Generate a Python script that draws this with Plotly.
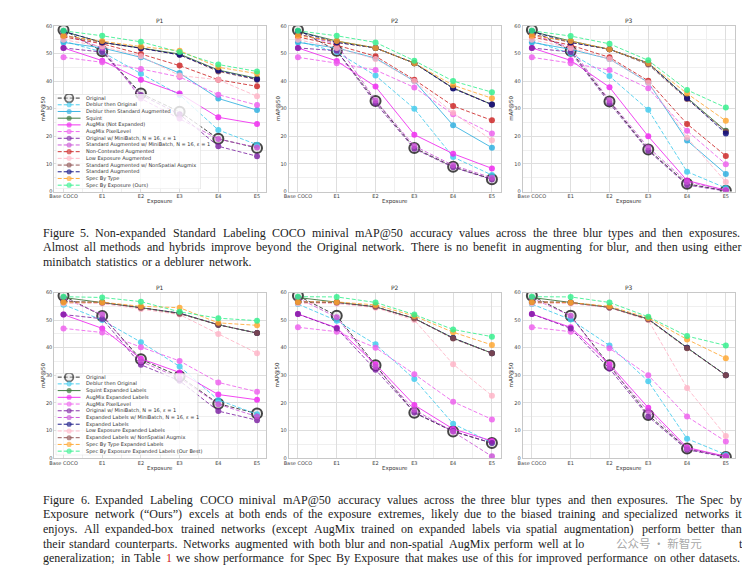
import plotly.graph_objects as go

# ---------------- data ----------------
CATEGORIES = ["Base COCO", "E1", "E2", "E3", "E4", "E5"]
PANEL_TITLES = ["P1", "P2", "P3"]
Y_TICKS = [0, 10, 20, 30, 40, 50, 60]

F5_NAMES = ["Original", "Deblur then Original", "Deblur then Standard Augmented", "Squint",
            "AugMix (Not Expanded)", "AugMix PixelLevel", "Original w/ MiniBatch, N = 16, ε = 1",
            "Standard Augmented w/ MiniBatch, N = 16, ε = 1", "Non-Contexted Augmented",
            "Low Exposure Augmented", "Standard Augmented w/ NonSpatial Augmix", "Standard Augmented",
            "Spec By Type", "Spec By Exposure (Ours)"]
F6_NAMES = ["Original", "Deblur then Original", "Squint Expanded Labels", "AugMix Expanded Labels",
            "AugMix PixelLevel", "Original w/ MiniBatch, N = 16, ε = 1",
            "Expanded Labels w/ MiniBatch, N = 16, ε = 1", "Expanded Labels",
            "Low Exposure Expanded Labels", "Expanded Labels w/ NonSpatial Augmix",
            "Spec By Type Expanded Labels", "Spec By Exposure Expanded Labels (Our Best)"]

# Figure 5 (rows follow F5_NAMES)
F5_P1 = [[58.5, 50.8, 35.5, 28.9, 19.1, 15.8],
         [54.5, 50.5, 42.7, 35.0, 22.3, 17.0],
         [54.0, 52.0, 48.6, 42.9, 33.7, 29.5],
         [58.0, 54.0, 52.0, 49.8, 44.0, 41.0],
         [52.0, 47.4, 40.5, 35.5, 26.9, 24.5],
         [48.6, 46.8, 44.4, 41.5, 35.1, 31.3],
         [52.0, 50.5, 35.0, 28.0, 16.4, 12.8],
         [57.0, 52.0, 33.7, 26.5, 19.0, 16.0],
         [56.0, 53.5, 49.8, 45.6, 40.5, 38.1],
         [55.0, 52.5, 49.0, 42.0, 40.5, 34.5],
         [56.5, 54.0, 51.9, 49.5, 43.5, 40.5],
         [58.0, 54.0, 51.9, 49.5, 43.8, 40.7],
         [56.4, 54.5, 52.5, 51.0, 45.0, 42.7],
         [58.2, 56.4, 54.2, 50.5, 46.0, 43.5]]
F5_P2 = [[58.5, 51.0, 32.8, 15.8, 9.0, 4.5],
         [54.5, 50.5, 42.0, 30.0, 12.5, 6.0],
         [54.0, 52.0, 48.3, 40.0, 24.0, 15.9],
         [58.0, 54.5, 52.0, 46.5, 37.5, 31.5],
         [52.0, 47.3, 38.0, 20.6, 13.7, 8.4],
         [48.6, 46.5, 44.0, 37.7, 28.0, 21.0],
         [52.0, 51.0, 32.0, 15.5, 8.8, 4.4],
         [57.0, 53.4, 33.0, 16.5, 9.5, 5.0],
         [56.0, 53.0, 49.0, 40.5, 31.0, 25.8],
         [55.0, 52.0, 48.0, 40.0, 28.5, 18.6],
         [57.0, 54.0, 52.0, 46.5, 37.5, 31.5],
         [58.0, 54.0, 52.0, 46.5, 37.3, 31.5],
         [56.4, 54.5, 52.0, 46.5, 38.5, 33.8],
         [58.2, 56.4, 54.0, 47.4, 40.0, 36.0]]
F5_P3 = [[58.5, 51.0, 32.6, 15.2, 2.8, 0.3],
         [54.5, 50.0, 41.8, 29.6, 7.2, 1.3],
         [54.0, 51.5, 48.0, 39.5, 18.5, 6.4],
         [58.0, 54.5, 51.5, 46.5, 34.0, 22.0],
         [52.0, 47.5, 37.8, 20.0, 4.0, 0.5],
         [48.6, 46.5, 44.0, 37.4, 22.0, 9.9],
         [52.0, 50.5, 32.0, 14.8, 2.4, 0.2],
         [57.0, 52.0, 33.0, 16.0, 3.5, 0.5],
         [56.0, 53.0, 48.6, 40.1, 24.5, 12.9],
         [55.0, 52.0, 48.0, 39.5, 19.5, 3.5],
         [57.0, 54.0, 51.5, 46.0, 33.5, 21.7],
         [58.0, 54.0, 51.5, 46.5, 33.8, 21.0],
         [56.4, 54.5, 51.5, 46.5, 35.5, 25.6],
         [58.2, 56.3, 53.5, 47.5, 36.8, 30.4]]

# Figure 6 (rows follow F6_NAMES)
F6_P1 = [[58.8, 51.5, 35.8, 29.6, 19.7, 16.1],
         [55.6, 50.0, 42.0, 33.2, 21.0, 15.9],
         [58.2, 56.4, 54.5, 52.5, 48.3, 45.3],
         [52.0, 47.0, 36.0, 31.0, 23.0, 21.1],
         [47.0, 45.5, 40.2, 35.2, 27.4, 24.0],
         [52.0, 50.5, 33.8, 28.0, 17.0, 13.7],
         [58.0, 52.0, 35.0, 29.0, 19.5, 15.0],
         [56.7, 56.4, 54.5, 52.5, 48.3, 45.3],
         [56.0, 56.0, 54.0, 52.0, 45.0, 38.0],
         [56.7, 56.4, 54.5, 52.3, 48.3, 45.3],
         [56.5, 56.5, 55.0, 54.5, 49.0, 48.1],
         [58.5, 58.2, 56.7, 53.0, 50.7, 49.8]]
F6_P2 = [[58.8, 51.6, 33.6, 16.4, 9.6, 5.4],
         [55.8, 49.8, 41.2, 28.6, 12.4, 5.5],
         [58.2, 56.6, 54.8, 50.6, 43.5, 38.0],
         [52.2, 47.2, 34.0, 19.2, 10.5, 6.2],
         [47.4, 45.8, 40.0, 30.4, 20.4, 14.0],
         [52.2, 47.0, 32.0, 16.5, 9.8, 5.4],
         [58.0, 51.0, 33.0, 17.5, 9.5, 0.6],
         [56.6, 56.4, 54.8, 50.6, 43.5, 38.0],
         [56.0, 56.0, 54.5, 50.0, 34.0, 22.6],
         [56.6, 56.4, 54.8, 50.6, 43.3, 38.0],
         [56.6, 56.6, 55.5, 51.5, 45.6, 41.0],
         [58.5, 58.4, 56.4, 52.0, 46.6, 44.0]]
F6_P3 = [[58.8, 51.6, 33.6, 15.6, 3.4, 0.4],
         [55.8, 50.2, 40.8, 27.8, 7.0, 1.2],
         [58.2, 56.4, 54.6, 50.4, 40.0, 30.0],
         [52.2, 47.4, 34.0, 18.2, 3.8, 0.6],
         [47.4, 45.8, 39.8, 30.0, 15.0, 6.0],
         [52.2, 47.0, 32.4, 15.0, 3.0, 0.3],
         [58.0, 51.6, 33.0, 17.0, 3.4, 0.5],
         [56.6, 56.4, 54.6, 50.4, 40.0, 30.0],
         [56.0, 56.0, 54.5, 50.0, 25.4, 8.0],
         [56.6, 56.4, 54.6, 50.2, 39.8, 30.0],
         [56.6, 56.4, 55.0, 50.8, 43.0, 36.2],
         [58.5, 58.4, 56.4, 51.2, 44.2, 40.8]]

CAPTION5 = [
    ("Figure 5. Non-expanded Standard Labeling COCO minival mAP@50 accuracy values across the three blur types and then exposures.", True),
    ("Almost all methods and hybrids improve beyond the Original network. There is no benefit in augmenting for blur, and then using either", True),
    ("minibatch statistics or a deblurer network.", False),
]
CAPTION6 = [
    ("Figure 6. Expanded Labeling COCO minival mAP@50 accuracy values across the three blur types and then exposures.  The Spec by", True),
    ("Exposure network (“Ours”) excels at both ends of the exposure extremes, likely due to the biased training and specialized networks it", True),
    ("enjoys.  All expanded-box trained networks (except AugMix trained on expanded labels via spatial augmentation) perform better than", True),
    ("their standard counterparts.  Networks augmented with both blur and non-spatial AugMix perform well at low exposures, suggesting robust", True),
    ("generalization; in Table 1 we show performance for Spec By Exposure that makes use of this for improved performance on other datasets.", True),
]
# words hidden under the watermark in the picture -> visible fragment only
HIDDEN = {(3, "low"): ("lo", 0), (3, "exposures,"): ("", 0), (3, "suggesting"): ("", 0),
          (3, "robust"): ("t", 5)}
WATERMARK = "公众号 · 新智元"

# ---------------- styles ----------------
COL = dict(orig="#222222", dblue="#3ccbee", dblue2="#2aaee0", squint="#2f6e2f", mag="#f020f0",
           mag2="#ee5cee", purple="#7b1fa2", orchid="#c94fd6", red="#cc2020", pink="#ffb3c6",
           brown="#8a4b4b", navy="#0a0a80", orange="#ffa52c", green="#2ff08a")
F5_STYLE = [("orig", "d"), ("dblue", "d"), ("dblue2", "s"), ("squint", "s"), ("mag", "s"), ("mag2", "d"),
            ("purple", "d"), ("orchid", "d"), ("red", "d"), ("pink", "d"), ("brown", "d"), ("navy", "d"),
            ("orange", "d"), ("green", "d")]
F6_STYLE = [("orig", "d"), ("dblue", "d"), ("squint", "s"), ("mag", "s"), ("mag2", "d"), ("purple", "d"),
            ("orchid", "d"), ("navy", "d"), ("pink", "d"), ("brown", "d"), ("orange", "d"), ("green", "d")]
DASH = {"d": "4px,2px", "s": "solid"}

W_PX, H_PX = 750, 574
PANEL_X = [(41.5, 255.0), (277.5, 491.5), (513.0, 727.0)]
ROW_Y = [(15.0, 182.5), (284.5, 451.7)]
FONT = "DejaVu Sans"
SERIF = "Liberation Serif"


def fx(px):
    return px / W_PX


def fy(py):
    return 1 - py / H_PX


fig = go.Figure()
layout = dict(width=W_PX, height=H_PX, margin=dict(l=0, r=0, t=0, b=0), autosize=False,
              paper_bgcolor="white", plot_bgcolor="rgba(0,0,0,0)", showlegend=False)
annotations = []

panels = [(0, F5_P1, F5_STYLE), (0, F5_P2, F5_STYLE), (0, F5_P3, F5_STYLE),
          (1, F6_P1, F6_STYLE), (1, F6_P2, F6_STYLE), (1, F6_P3, F6_STYLE)]


def marker_for(key, size_scale=1.0):
    if key == "orig":
        return dict(size=10 * size_scale, color="rgba(215,215,215,0.55)", line=dict(color="#1e1e1e", width=2))
    return dict(size=6 * size_scale, color=COL[key], line=dict(width=0))


for idx, (row, series, styles) in enumerate(panels):
    col = idx % 3
    n = idx + 1
    sfx = "" if n == 1 else str(n)
    x0, x1 = PANEL_X[col]
    y0, y1 = ROW_Y[row]
    layout["xaxis" + sfx] = dict(domain=[fx(x0), fx(x1)], anchor="y" + sfx, range=[-0.24, 5.24],
                                 tickmode="array", tickvals=list(range(len(CATEGORIES))), ticktext=CATEGORIES,
                                 tickfont=dict(family=FONT, size=5, color="#444"), ticks="",
                                 showgrid=True, gridcolor="#dedede", gridwidth=0.7, zeroline=False,
                                 showline=True, mirror=True, linecolor="#c8c8c8", linewidth=0.8,
                                 minor=dict(tickmode="linear", tick0=0, dtick=0.5, showgrid=True,
                                            gridcolor="#efefef", gridwidth=0.6),
                                 fixedrange=True)
    layout["yaxis" + sfx] = dict(domain=[fy(y1), fy(y0)], anchor="x" + sfx, range=[0, 60],
                                 tickmode="array", tickvals=Y_TICKS, ticktext=[str(v) for v in Y_TICKS],
                                 tickfont=dict(family=FONT, size=5, color="#444"), ticks="",
                                 showgrid=True, gridcolor="#dedede", gridwidth=0.7, zeroline=False,
                                 showline=True, mirror=True, linecolor="#c8c8c8", linewidth=0.8,
                                 minor=dict(tickmode="linear", tick0=0, dtick=5, showgrid=True,
                                            gridcolor="#efefef", gridwidth=0.6),
                                 fixedrange=True)
    for vals, (key, d) in zip(series, styles):
        fig.add_trace(go.Scatter(
            x=list(range(len(CATEGORIES))), y=vals, mode="lines+markers",
            xaxis="x" + sfx, yaxis="y" + sfx,
            line=dict(color=COL[key], width=1.0, dash=DASH[d]),
            marker=marker_for(key), opacity=0.82, hoverinfo="skip"))
    cx = (x0 + x1) / 2
    annotations.append(dict(text=PANEL_TITLES[col], x=fx(cx), y=fy(y0 - 5), xref="paper", yref="paper",
                            showarrow=False, font=dict(family=FONT, size=6, color="#333"),
                            xanchor="center", yanchor="middle"))
    annotations.append(dict(text="Exposure", x=fx(cx), y=fy(y1 + 10.5), xref="paper", yref="paper",
                            showarrow=False, font=dict(family=FONT, size=5.5, color="#333"),
                            xanchor="center", yanchor="middle"))
    annotations.append(dict(text="mAP@50", x=fx(x0 - 11.5), y=fy((y0 + y1) / 2), xref="paper", yref="paper",
                            showarrow=False, textangle=-90, font=dict(family=FONT, size=5.5, color="#333"),
                            xanchor="center", yanchor="middle"))


# ---------------- legends (drawn on invisible helper axes) ----------------
def build_legend(axn, names, styles, box, first, step):
    bx0, by0, bx1, by1 = box
    wbox, hbox = bx1 - bx0, by1 - by0
    sfx = str(axn)
    layout["xaxis" + sfx] = dict(domain=[fx(bx0), fx(bx1)], anchor="y" + sfx, range=[0, wbox],
                                 visible=False, fixedrange=True)
    layout["yaxis" + sfx] = dict(domain=[fy(by1), fy(by0)], anchor="x" + sfx, range=[hbox, 0],
                                 visible=False, fixedrange=True)
    fig.add_trace(go.Scatter(x=[0, wbox, wbox, 0, 0], y=[0, 0, hbox, hbox, 0], mode="lines",
                             fill="toself", fillcolor="rgba(255,255,255,0.8)",
                             line=dict(color="#d4d4d4", width=0.8), xaxis="x" + sfx, yaxis="y" + sfx,
                             hoverinfo="skip"))
    for i, (name, (key, d)) in enumerate(zip(names, styles)):
        yy = first + i * step
        mk = dict(marker_for(key, 0.85))
        mk["size"] = [0, mk["size"], 0]
        if key == "orig":
            mk["line"] = dict(color="#1e1e1e", width=[0, 1.8, 0])
        fig.add_trace(go.Scatter(x=[2, 13.5, 25], y=[yy, yy, yy], mode="lines+markers",
                                 line=dict(color=COL[key], width=1.0, dash=DASH[d]), marker=mk,
                                 opacity=0.9, xaxis="x" + sfx, yaxis="y" + sfx, hoverinfo="skip"))
        annotations.append(dict(text=name, x=29, y=yy, xref="x" + sfx, yref="y" + sfx, showarrow=False,
                                xanchor="left", yanchor="middle", borderpad=0,
                                font=dict(family=FONT, size=5, color="#333")))


build_legend(7, F5_NAMES, F5_STYLE, (43, 84, 189, 180), 4, 6.77)
build_legend(8, F6_NAMES, F6_STYLE, (43, 366, 186, 449), 4, 6.8)

# ---------------- captions (justified word by word) ----------------
TW = {' ': 250, '"': 408, "'": 180, '(': 333, ')': 333, ',': 250, '-': 333, '.': 250, '/': 278, ':': 278,
      ';': 278, '@': 921, '“': 444, '”': 444,
      'A': 722, 'B': 667, 'C': 667, 'D': 722, 'E': 611, 'F': 556, 'G': 722, 'H': 722, 'I': 333, 'J': 389,
      'K': 722, 'L': 611, 'M': 889, 'N': 722, 'O': 722, 'P': 556, 'Q': 722, 'R': 667, 'S': 556, 'T': 611,
      'U': 722, 'V': 722, 'W': 944, 'X': 722, 'Y': 722, 'Z': 611,
      'a': 444, 'b': 500, 'c': 444, 'd': 500, 'e': 444, 'f': 333, 'g': 500, 'h': 500, 'i': 278, 'j': 278,
      'k': 500, 'l': 278, 'm': 778, 'n': 500, 'o': 500, 'p': 500, 'q': 500, 'r': 333, 's': 389, 't': 278,
      'u': 500, 'v': 500, 'w': 722, 'x': 500, 'y': 500, 'z': 444}
RENDER_FACTOR = 1.046  # rendered glyph advance vs. nominal metrics


def tw(s):
    return RENDER_FACTOR * sum(TW.get(ch, 500) for ch in s) / 1000.0


TX0, TX1 = 30.0, 734.0
all_lines = CAPTION5 + CAPTION6
fit = min((TX1 - TX0) / tw(" ".join(t.split())) for t, j in all_lines if j)
CAP_SIZE = min(12.6, fit * 0.995)


def place_caption(lines, ystart, lstep, hidden=None):
    hidden = hidden or {}
    for li, (text, just) in enumerate(lines):
        words = text.split()
        yy = ystart + li * lstep
        widths = [tw(w) * CAP_SIZE for w in words]
        if just and len(words) > 1:
            gap = (TX1 - TX0 - sum(widths)) / (len(words) - 1)
        else:
            gap = 0.25 * CAP_SIZE
        xx = TX0
        for w, wd in zip(words, widths):
            shown, skip = w, 0
            if (li, w) in hidden:
                shown, skip = hidden[(li, w)]
            if shown:
                color = "#d02020" if shown == "1" else "#1c1c1c"
                annotations.append(dict(text=shown, x=fx(xx + tw(w[:skip]) * CAP_SIZE), y=fy(yy),
                                        xref="paper", yref="paper", showarrow=False,
                                        xanchor="left", yanchor="middle", borderpad=0, borderwidth=0,
                                        font=dict(family=SERIF, size=CAP_SIZE, color=color)))
            xx += wd + gap


place_caption(CAPTION5, 224.0, 14.7)
place_caption(CAPTION6, 494.0, 14.8, HIDDEN)

annotations.append(dict(text=WATERMARK, x=fx(650), y=fy(537.5), xref="paper", yref="paper", showarrow=False,
                        xanchor="center", yanchor="middle", borderpad=0,
                        font=dict(family="Noto Sans CJK SC", size=11.5, color="rgba(150,150,150,0.85)")))

layout["annotations"] = annotations
fig.update_layout(**layout)
fig.write_html("out.html")
